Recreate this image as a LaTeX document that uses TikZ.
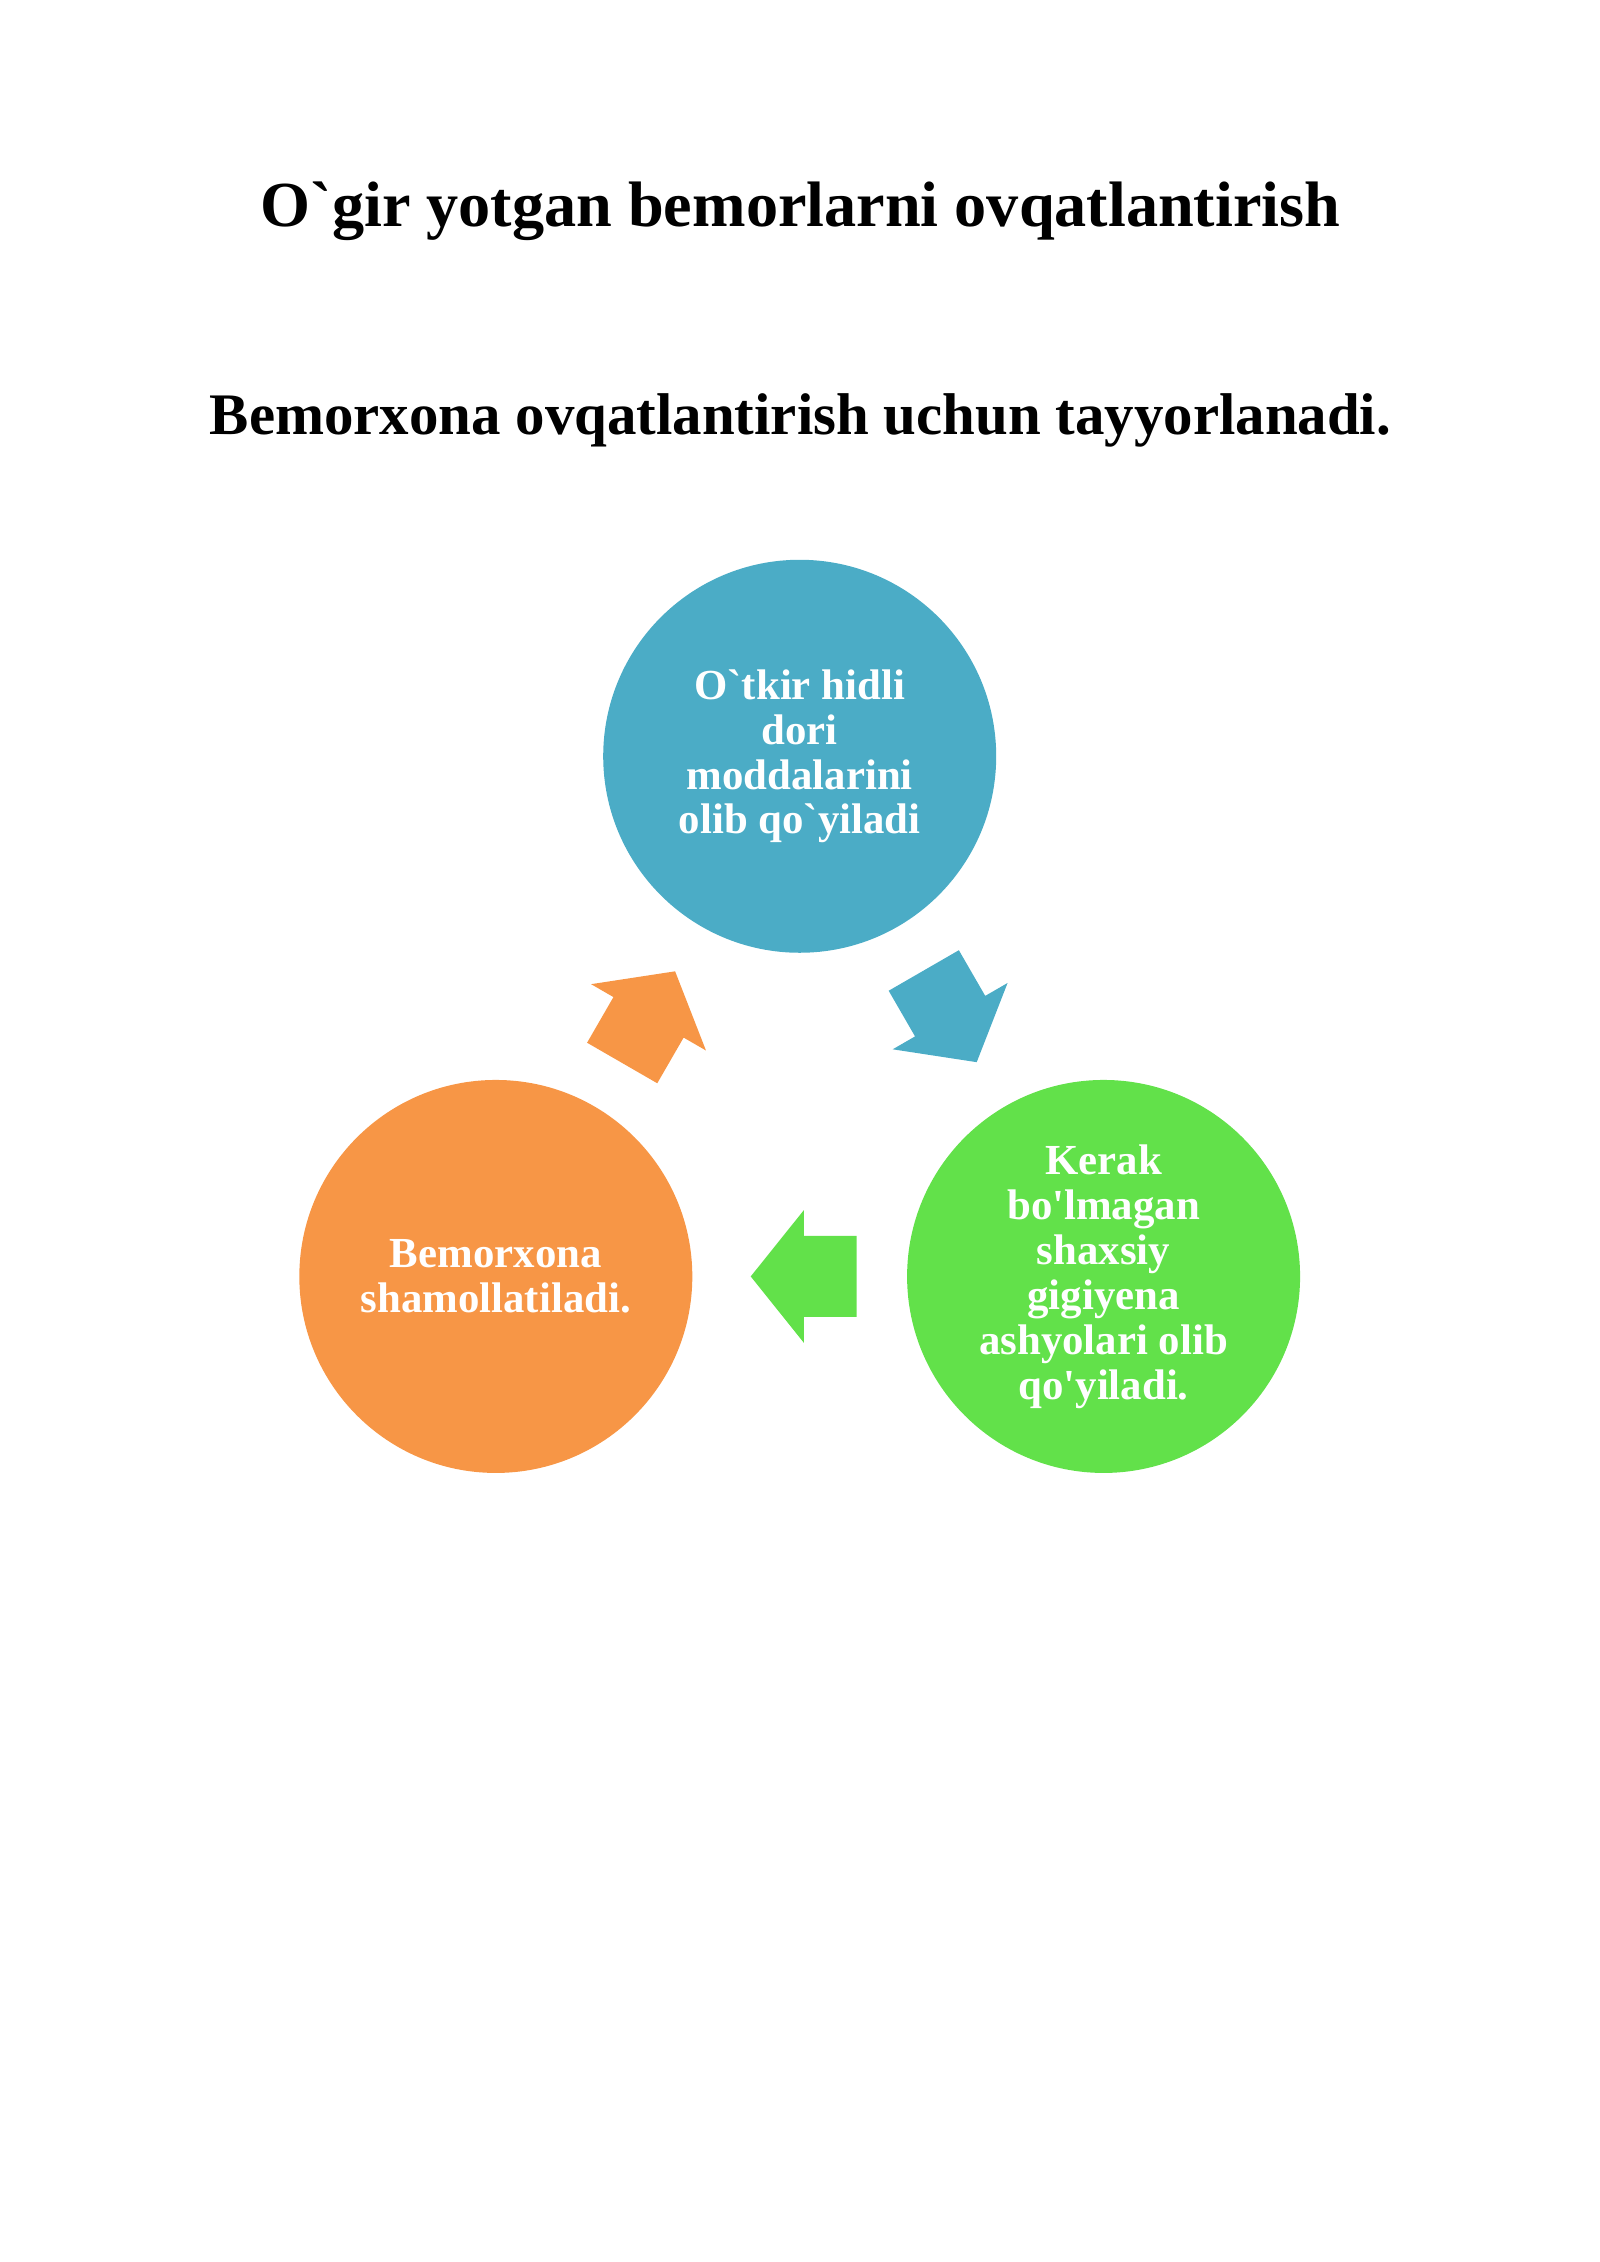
\documentclass[tikz,border=0pt]{standalone}
\usepackage{fontspec}
\setmainfont{Liberation Serif}
\usetikzlibrary{positioning, shapes.arrows}

\definecolor{topblue}{HTML}{4BACC6}
\definecolor{leftorange}{HTML}{F79646}
\definecolor{rightgreen}{HTML}{62E14A}

\begin{document}
\begin{tikzpicture}[node distance=2cm, on grid,
    bubble/.style={circle, minimum size=5.16cm, inner sep=0pt, align=center, text=white,
        font=\bfseries\fontsize{16}{16.8}\selectfont},
    turn/.style={single arrow, minimum height=1.39cm, inner xsep=0pt, inner ysep=0.525cm,
        single arrow head extend=0.339cm, single arrow tip angle=102.6}]
    \useasboundingbox (0,0) rectangle (21,29.7);

    \node[anchor=base, font=\bfseries\fontsize{24}{28}\selectfont] (title) at (10.51,26.73) {O\textasciigrave gir yotgan bemorlarni ovqatlantirish};
    \node[below=2.74cm of title.base, anchor=base, font=\bfseries\fontsize{22}{26}\selectfont] (sub) {Bemorxona ovqatlantirish uchun tayyorlanadi.};

    \node[bubble, fill=topblue] (top) at (10.50,19.77) {O\textasciigrave tkir hidli\\dori\\moddalarini\\olib qo\textasciigrave yiladi};
    \node[bubble, fill=rightgreen] (right) [below right=6.83cm and 3.99cm of top] {Kerak\\bo\textquotesingle lmagan\\shaxsiy\\gigiyena\\ashyolari olib\\qo\textquotesingle yiladi.};
    \node[bubble, fill=leftorange] (left) [below left=6.83cm and 3.99cm of top] {Bemorxona\\shamollatiladi.};

    \node[turn, fill=topblue, rotate=-60] (t1) [below right=3.23cm and 1.87cm of top] {};
    \node[turn, fill=rightgreen, rotate=180] (t2) [right=4.255cm of left] {};
    \node[turn, fill=leftorange, rotate=60] (t3) [below left=3.61cm and 2.09cm of top] {};
\end{tikzpicture}
\end{document}
